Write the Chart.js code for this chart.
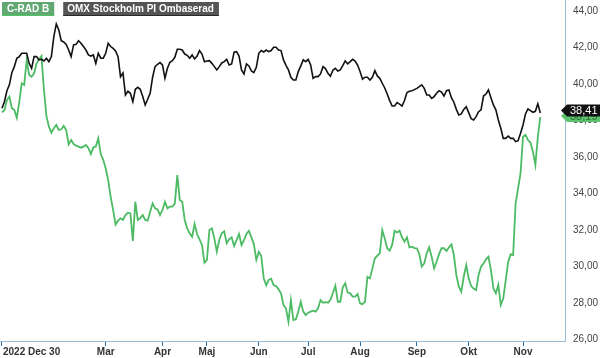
<!DOCTYPE html>
<html>
<head>
<meta charset="utf-8">
<script src="https://cdn.jsdelivr.net/npm/chart.js@4/dist/chart.umd.min.js"></script>
<style>
html,body{margin:0;padding:0;background:#fff;}
#wrap{width:600px;height:358px;}
</style>
</head>
<body>
<div id="wrap"><canvas id="c" width="600" height="358"></canvas></div>
<script>
// Trading-day index 0 = 2022-12-30
const tickIdx = [0, 42, 65, 83, 104, 124, 145, 168, 189, 211];
const tickLabels = ['2022 Dec 30', 'Mar', 'Apr', 'Maj', 'Jun', 'Jul', 'Aug', 'Sep', 'Okt', 'Nov'];
const yTicks = [26, 28, 30, 32, 34, 36, 38, 40, 42, 44];
const seriesNames = ['C-RAD B', 'OMX Stockholm PI Ombaserad'];

const cradB = [
38.45,38.56,39.12,39.31,38.67,38.58,38.15,39.00,40.04,39.95,
41.30,40.50,40.40,40.58,41.13,41.35,41.53,39.67,38.25,37.66,
37.33,37.57,37.75,37.48,37.52,37.70,37.48,36.69,36.93,36.71,
36.62,36.57,36.51,36.57,36.66,36.48,36.16,36.53,36.57,37.02,
36.16,35.84,35.38,34.74,33.83,33.10,32.30,32.51,32.64,32.55,
32.82,32.95,32.91,31.40,33.55,32.55,32.64,32.82,32.55,32.51,
33.00,33.46,33.19,33.13,32.82,33.10,33.55,33.19,33.28,33.28,
33.46,35.01,33.64,33.55,32.55,32.09,31.82,31.63,32.33,31.78,
31.49,31.18,30.21,30.36,32.00,32.09,31.54,30.81,31.45,31.82,
31.93,31.27,31.49,31.60,31.12,31.45,31.78,31.18,31.45,31.78,
31.96,31.60,31.23,30.36,30.81,30.58,29.35,28.97,29.26,29.33,
28.99,28.93,28.75,28.53,27.89,27.71,26.98,28.16,27.07,27.11,
27.53,28.07,27.53,27.34,27.47,27.53,27.58,27.53,27.71,28.16,
28.02,28.05,28.02,28.18,28.55,28.95,28.07,28.07,28.86,29.08,
28.57,28.53,28.35,28.35,28.49,27.98,27.94,28.07,29.44,29.35,
29.90,30.45,30.59,30.72,32.00,31.54,31.00,30.87,31.18,31.96,
31.87,31.96,31.60,31.36,31.60,31.05,31.09,31.01,31.00,30.68,
29.99,30.17,30.72,31.05,30.54,29.90,30.26,30.68,31.00,31.00,
30.85,31.05,31.21,30.63,29.53,28.90,28.62,29.44,30.08,29.35,
28.93,28.79,28.71,29.53,29.99,30.17,30.39,30.54,29.81,28.80,
28.53,29.00,27.89,28.26,29.26,30.26,30.68,30.63,33.46,34.28,
35.11,37.11,37.21,36.93,36.79,36.29,35.56,37.11,38.19
];

const omxRebased = [
38.67,39.03,39.63,39.95,40.62,40.95,41.41,41.50,41.68,41.68,
41.68,41.13,40.86,41.50,41.50,41.32,41.35,41.26,41.41,41.22,
41.50,42.59,43.29,42.96,42.37,42.30,42.17,41.86,41.50,42.14,
42.17,42.37,42.23,42.05,41.86,41.59,41.53,41.59,41.13,41.68,
41.41,41.41,41.68,42.23,42.05,41.95,41.81,41.50,40.40,40.60,
39.40,39.60,39.49,39.03,39.71,39.82,39.71,39.31,38.85,39.16,
39.49,40.37,40.95,41.08,41.17,41.04,40.31,40.86,41.19,41.28,
41.46,41.90,41.90,41.86,41.64,41.57,41.41,41.59,41.37,41.53,
41.83,41.64,41.22,41.26,41.28,41.13,40.95,40.77,40.95,41.15,
41.22,41.35,41.04,41.10,41.74,41.77,41.53,40.77,40.55,41.10,
40.99,40.71,40.62,40.91,41.68,41.83,41.75,41.86,41.77,41.83,
42.01,42.01,41.86,41.83,41.32,41.02,40.77,40.37,40.22,40.22,
40.68,40.99,41.32,41.22,41.35,41.04,40.31,40.40,40.40,40.55,
40.95,40.84,40.58,40.42,40.75,40.86,40.71,40.77,41.00,41.26,
41.10,41.22,41.35,41.26,41.04,40.68,40.26,40.37,40.37,40.22,
40.37,40.73,40.44,40.31,40.04,39.78,39.45,39.09,38.79,38.79,
38.98,38.90,38.79,39.09,39.53,39.60,39.63,39.69,39.76,39.85,
39.95,39.76,39.40,39.40,39.21,39.31,39.49,39.63,39.56,39.34,
39.63,39.67,39.25,39.00,38.61,38.30,38.36,38.61,38.76,38.43,
38.10,38.03,38.21,38.48,38.58,39.34,39.45,39.67,39.25,38.85,
38.58,38.03,37.57,37.02,37.02,37.15,37.02,37.02,36.84,36.89,
37.30,37.75,38.36,38.63,38.54,38.45,38.50,38.91,38.41
];

const GREEN = '#4cbb64';
const fmt = v => v.toFixed(2).replace('.', ',');

const overlay = {
  id: 'overlay',
  afterDraw(chart) {
    const ctx = chart.ctx;
    const xs = chart.scales.x, ys = chart.scales.y;
    ctx.save();
    // x-axis labels
    ctx.font = 'bold 10px "Liberation Sans", Arial, sans-serif';
    ctx.fillStyle = '#333';
    ctx.textBaseline = 'middle';
    tickIdx.forEach((v, i) => {
      const px = xs.getPixelForValue(v);
      ctx.textAlign = i === 0 ? 'left' : 'center';
      ctx.fillText(tickLabels[i], i === 0 ? px + 1 : px, 352);
    });
    // legend boxes
    ctx.font = 'bold 10px "Liberation Sans", Arial, sans-serif';
    ctx.textAlign = 'left';
    let w0 = ctx.measureText(seriesNames[0]).width + 10;
    ctx.fillStyle = '#62a872';
    ctx.fillRect(2, 2, w0, 14);
    ctx.fillStyle = '#4fc463';
    ctx.fillRect(2, 15, w0, 1);
    ctx.fillStyle = '#fff';
    ctx.fillText(seriesNames[0], 7, 9.5);
    const x1 = 2 + w0 + 9;
    let w1 = ctx.measureText(seriesNames[1]).width + 9;
    ctx.fillStyle = '#555';
    ctx.fillRect(x1, 2, w1, 14);
    ctx.fillStyle = '#2a2a2a';
    ctx.fillRect(x1, 15, w1, 1);
    ctx.fillStyle = '#fff';
    ctx.fillText(seriesNames[1], x1 + 4, 9.5);
    // end value labels
    const drawTag = (val, yOff, bg, fg) => {
      const yc = ys.getPixelForValue(val) + yOff;
      const x0 = 561;
      ctx.beginPath();
      ctx.moveTo(x0, yc);
      ctx.lineTo(x0 + 6, yc - 6);
      ctx.lineTo(600, yc - 6);
      ctx.lineTo(600, yc + 6);
      ctx.lineTo(x0 + 6, yc + 6);
      ctx.closePath();
      ctx.fillStyle = bg;
      ctx.fill();
      ctx.fillStyle = fg;
      ctx.font = '11px "Liberation Sans", Arial, sans-serif';
      ctx.textAlign = 'left';
      ctx.fillText(fmt(val), 570, yc + 0.5);
    };
    drawTag(cradB[cradB.length - 1], -1, '#5cc46f', '#2f6e3b');
    drawTag(omxRebased[omxRebased.length - 1], -2.5, '#111', '#fff');
    ctx.restore();
  }
};

new Chart(document.getElementById('c'), {
  type: 'line',
  data: {
    datasets: [
      {
        label: seriesNames[1],
        data: omxRebased.map((v, i) => ({x: i, y: v})),
        borderColor: '#111',
        borderWidth: 1.6,
        pointRadius: 0,
        tension: 0,
        fill: false
      },
      {
        label: seriesNames[0],
        data: cradB.map((v, i) => ({x: i, y: v})),
        borderColor: GREEN,
        borderWidth: 1.8,
        pointRadius: 0,
        tension: 0,
        fill: false
      }
    ]
  },
  options: {
    responsive: false,
    animation: false,
    layout: {padding: 0},
    plugins: {legend: {display: false}, tooltip: {enabled: false}},
    scales: {
      x: {
        type: 'linear',
        min: -0.8,
        max: 228,
        afterBuildTicks: s => { s.ticks = tickIdx.map(v => ({value: v})); },
        afterFit: s => { s.height = 17; s.paddingLeft = 0; s.paddingRight = 0; },
        ticks: {display: false},
        grid: {display: true, drawOnChartArea: false, drawTicks: true, tickLength: 5, color: '#2f6d9b', lineWidth: 1},
        border: {display: true, color: '#9bbbd2', width: 1}
      },
      y: {
        position: 'right',
        min: 25.92,
        max: 44.6,
        afterBuildTicks: s => { s.ticks = yTicks.map(v => ({value: v})); },
        afterFit: s => { s.width = 35; s.paddingTop = 0; s.paddingBottom = 0; },
        ticks: {
          callback: v => fmt(v),
          font: {size: 10, family: '"Liberation Sans", Arial, sans-serif'},
          color: '#444',
          padding: 8
        },
        grid: {display: false, drawTicks: false},
        border: {display: true, color: '#9bbbd2', width: 1}
      }
    }
  },
  plugins: [overlay]
});
</script>
</body>
</html>
